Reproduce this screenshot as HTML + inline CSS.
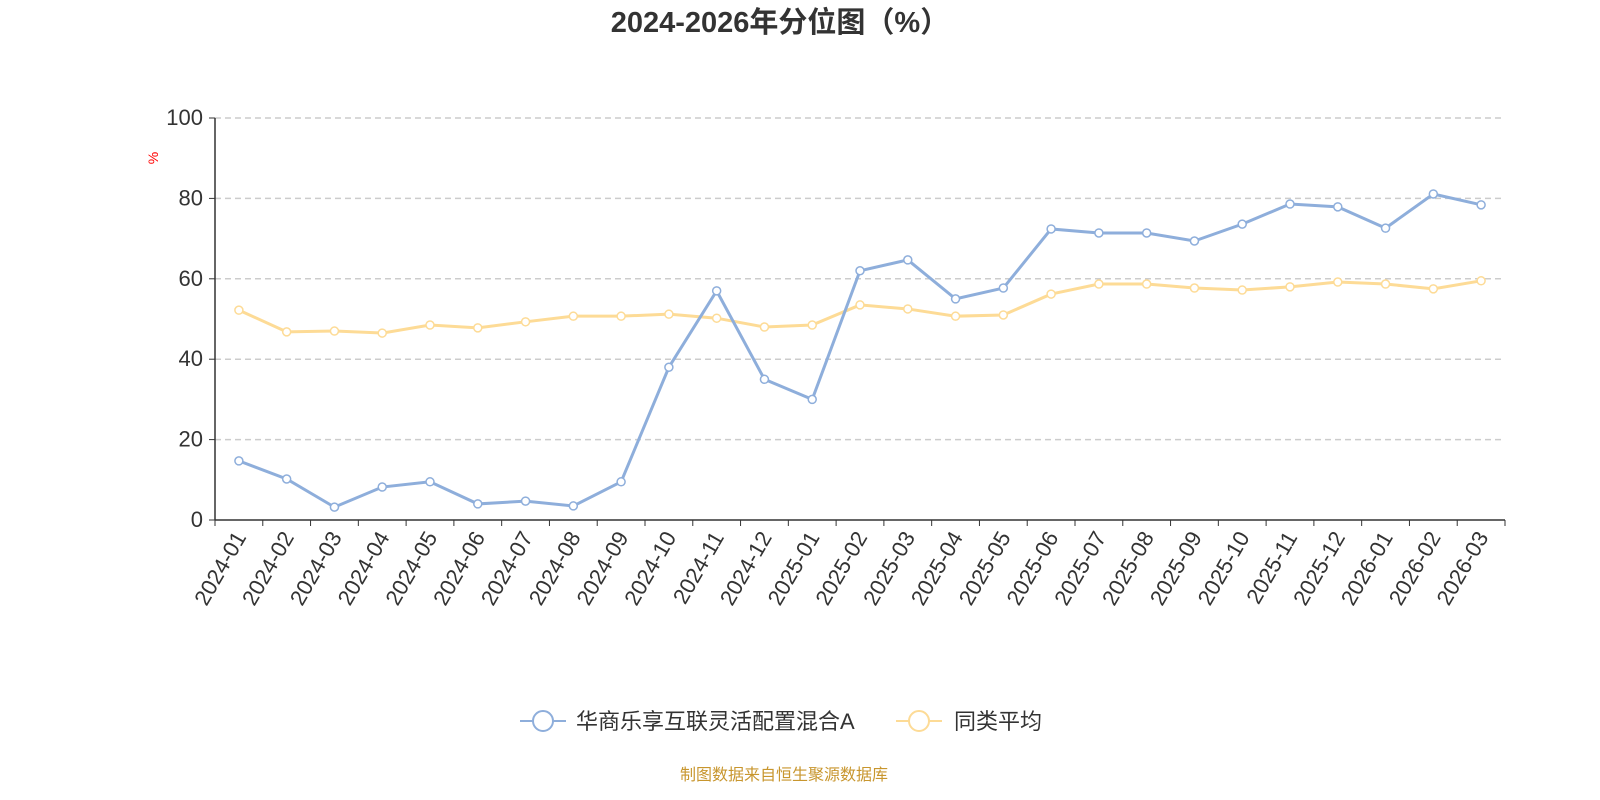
<!DOCTYPE html>
<html><head><meta charset="utf-8"><style>body{margin:0;background:#fff}svg{display:block}</style></head>
<body>
<svg id="s" width="1600" height="800" xmlns="http://www.w3.org/2000/svg" font-family="Liberation Sans, Noto Sans CJK SC, sans-serif">
<text x="780" y="32" text-anchor="middle" font-size="29" font-weight="bold" fill="#333">2024-2026年分位图（%）</text>
<text x="158" y="158" font-size="14" fill="red" transform="rotate(-90 158 158)" text-anchor="middle">%</text>
<g id="g"></g>
<g font-size="22" fill="#333">
<line x1="520" y1="721" x2="566" y2="721" stroke="#8eaedb" stroke-width="2"/><circle cx="543" cy="721" r="10" fill="#fff" stroke="#8eaedb" stroke-width="2"/>
<text x="576" y="729">华商乐享互联灵活配置混合A</text>
<line x1="896" y1="721" x2="942" y2="721" stroke="#fddb96" stroke-width="2"/><circle cx="919" cy="721" r="10" fill="#fff" stroke="#fddb96" stroke-width="2"/>
<text x="954" y="729">同类平均</text>
</g>
<text x="784" y="780" text-anchor="middle" font-size="16" fill="#c8962e">制图数据来自恒生聚源数据库</text>
</svg>
<script>
const A=[14.7,10.2,3.2,8.2,9.5,4,4.7,3.5,9.5,38,57,35,30,62,64.7,55,57.7,72.4,71.4,71.4,69.4,73.6,78.6,77.9,72.6,81.1,78.4];
const B=[52.2,46.8,47,46.5,48.5,47.8,49.3,50.7,50.7,51.2,50.2,48,48.5,53.5,52.5,50.7,51,56.2,58.7,58.7,57.7,57.2,58,59.2,58.7,57.5,59.5];
const L=[];for(let y=2024;y<=2026;y++)for(let m=1;m<=12;m++){L.push(y+'-'+String(m).padStart(2,'0'))}
const labs=L.slice(0,27);
const x0=215,x1=1505,w=(x1-x0)/27,Y=v=>520-v*4.02;
let h='';
for(let i=0;i<=5;i++){const y=Y(i*20);
 if(i>0)h+=`<line x1="${x0}" x2="${x1}" y1="${y}" y2="${y}" stroke="#ccc" stroke-dasharray="6,4" stroke-width="1.5"/>`;
 h+=`<line x1="${x0-6}" x2="${x0}" y1="${y}" y2="${y}" stroke="#333"/><text x="${x0-12}" y="${y+7}" text-anchor="end" font-size="22" fill="#333">${i*20}</text>`;}
h+=`<line x1="${x0}" x2="${x0}" y1="118" y2="520" stroke="#333" stroke-width="1.5"/><line x1="${x0}" x2="${x1}" y1="520" y2="520" stroke="#333" stroke-width="1.5"/>`;
for(let i=0;i<=27;i++){const x=x0+i*w;h+=`<line x1="${x}" x2="${x}" y1="520" y2="526" stroke="#333"/>`;}
labs.forEach((l,i)=>{const x=x0+(i+0.5)*w;h+=`<text x="${x+8}" y="537" text-anchor="end" font-size="22" fill="#333" transform="rotate(-60 ${x+8} 537)">${l}</text>`;});
function ser(d,c){let p=d.map((v,i)=>`${x0+(i+0.5)*w},${Y(v)}`).join(' ');
 let s=`<polyline points="${p}" fill="none" stroke="${c}" stroke-width="3"/>`;
 d.forEach((v,i)=>s+=`<circle cx="${x0+(i+0.5)*w}" cy="${Y(v)}" r="4" fill="#fff" stroke="${c}" stroke-width="1.5"/>`);return s;}
h+=ser(B,'#fddb96')+ser(A,'#8eaedb');
document.getElementById('g').innerHTML=h;
</script>
</body></html>
